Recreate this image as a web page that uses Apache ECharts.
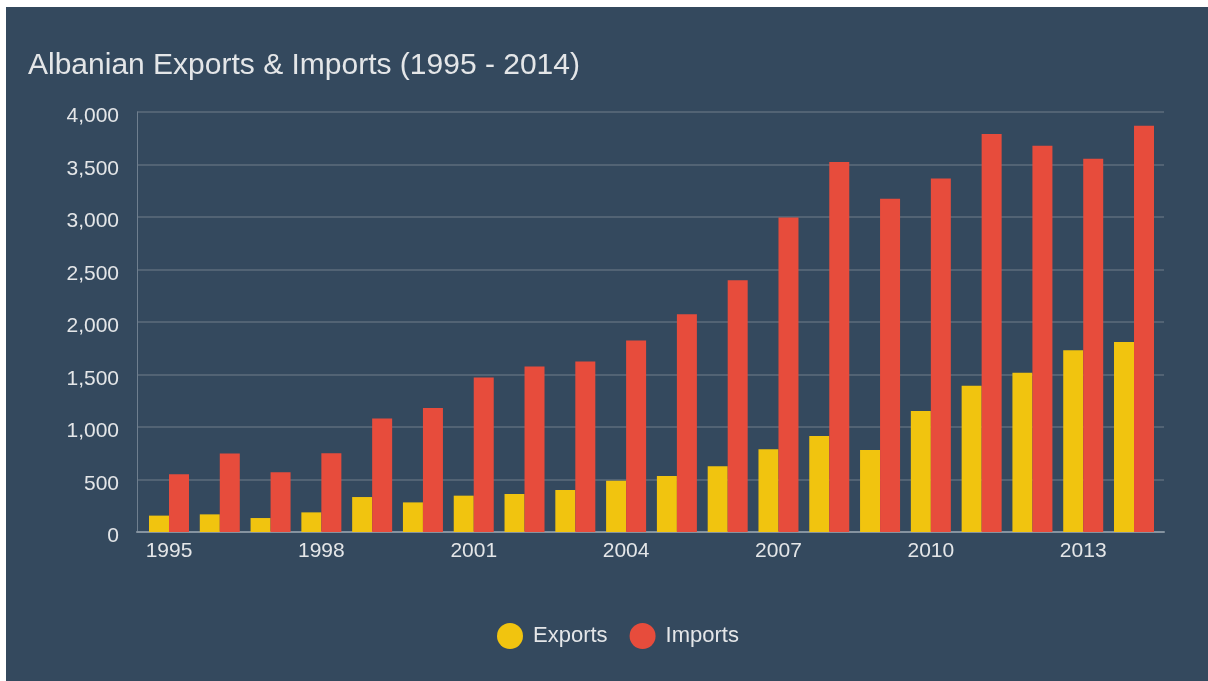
<!DOCTYPE html>
<html>
<head>
<meta charset="utf-8">
<title>Albanian Exports & Imports</title>
<script src="https://cdn.jsdelivr.net/npm/echarts@6/dist/echarts.min.js"></script>
<style>
  html, body { margin: 0; padding: 0; background: #ffffff; }
  #chart { position: absolute; left: 6px; top: 7px; width: 1202px; height: 674px; }
</style>
</head>
<body>
<div id="chart"></div>
<script>
// years on the x axis
const years = ['1995', '1996', '1997', '1998', '1999', '2000', '2001', '2002', '2003', '2004',
  '2005', '2006', '2007', '2008', '2009', '2010', '2011', '2012', '2013', '2014']

// values (millions)
const exportsData = [156, 168, 133, 187, 333, 282, 346, 362, 400, 489,
  533, 626, 787, 915, 781, 1153, 1392, 1516, 1732, 1809]
const importsData = [550, 747, 569, 750, 1081, 1182, 1472, 1577, 1625, 1825,
  2073, 2397, 2995, 3523, 3173, 3367, 3790, 3679, 3555, 3869]

const seriesNames = ['Exports', 'Imports']

const textColor = '#e4e6e8'
const labelFont = 'Liberation Sans'

let chart = echarts.init(document.getElementById('chart'))

let option = {
  backgroundColor: '#34495e',
  title: {
    text: 'Albanian Exports & Imports (1995 - 2014)',
    left: 17,
    top: 39,
    textStyle: {
      color: textColor,
      fontFamily: labelFont,
      fontSize: 30,
      fontWeight: 'normal'
    }
  },
  legend: {
    data: seriesNames,
    left: 486,
    top: 611,
    icon: 'circle',
    itemWidth: 26,
    itemHeight: 26,
    itemGap: 22,
    textStyle: {
      color: textColor,
      fontFamily: labelFont,
      fontSize: 22,
      padding: [0, 0, 0, 5]
    }
  },
  // grid 0: full width frame (split lines, axis lines, y labels)
  // grid 1: bars, inset a few px on both sides like the original
  grid: [
    { left: 131, right: 44, top: 105, bottom: 149 },
    { left: 137.6, right: 48.6, top: 105, bottom: 149 }
  ],
  xAxis: [
    {
      gridIndex: 0,
      type: 'category',
      data: years,
      axisTick: { show: false },
      axisLabel: { show: false },
      axisLine: { lineStyle: { color: '#8593a0', width: 2 } }
    },
    {
      gridIndex: 1,
      type: 'category',
      data: years,
      axisTick: { show: false },
      axisLine: { show: false },
      axisLabel: {
        interval: 2,
        color: textColor,
        fontFamily: labelFont,
        fontSize: 21,
        margin: 9
      }
    }
  ],
  yAxis: [
    {
      gridIndex: 0,
      type: 'value',
      min: 0,
      max: 4000,
      interval: 500,
      axisLine: { show: true, lineStyle: { color: '#6f7f8f', width: 1 } },
      axisTick: { show: false },
      splitLine: { lineStyle: { color: '#5c6c7c', width: 1.5 } },
      axisLabel: {
        margin: 18,
        formatter: function (v) {
          // labels sit a little below their grid line in the original
          return '{v|' + v.toLocaleString('en-US') + '}'
        },
        rich: {
          v: {
            color: textColor,
            fontFamily: labelFont,
            fontSize: 21,
            padding: [9, 0, 0, 0]
          }
        }
      }
    },
    {
      gridIndex: 1,
      type: 'value',
      min: 0,
      max: 4000,
      interval: 500,
      show: false
    }
  ],
  series: [
    {
      name: seriesNames[0],
      type: 'bar',
      xAxisIndex: 1,
      yAxisIndex: 1,
      data: exportsData,
      barWidth: 20,
      barGap: '0%',
      itemStyle: { color: '#f1c40f' }
    },
    {
      name: seriesNames[1],
      type: 'bar',
      xAxisIndex: 1,
      yAxisIndex: 1,
      data: importsData,
      barWidth: 20,
      barGap: '0%',
      itemStyle: { color: '#e74c3c' }
    }
  ]
}

chart.setOption(option)
</script>
</body>
</html>
